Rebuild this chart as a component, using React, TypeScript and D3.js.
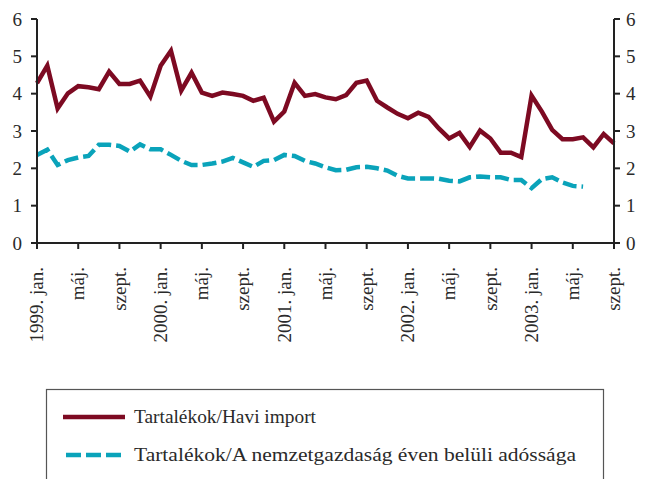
import React from "react";
import * as d3 from "d3";

const startYear = 1999;
const months = 57; // 1999 Jan .. 2003 Sep

const importRatio = [
  4.28, 4.75, 3.6, 4.01, 4.2, 4.17, 4.12, 4.59, 4.26, 4.26, 4.35, 3.92,
  4.75, 5.15, 4.08, 4.56, 4.03, 3.94, 4.03, 3.99, 3.94, 3.81, 3.89, 3.25,
  3.52, 4.29, 3.94, 3.99, 3.9, 3.85, 3.96, 4.29, 4.35, 3.81, 3.63, 3.46,
  3.34, 3.49, 3.38, 3.07, 2.8, 2.95, 2.57, 3.01, 2.8, 2.42, 2.42, 2.3,
  3.95, 3.52, 3.03, 2.78, 2.78, 2.83, 2.56, 2.92, 2.67,
];

const debtRatio = [
  2.36, 2.5, 2.09, 2.22, 2.29, 2.33, 2.63, 2.63, 2.6, 2.45, 2.64, 2.51,
  2.51, 2.36, 2.2, 2.09, 2.09, 2.13, 2.18, 2.28, 2.16, 2.04, 2.2, 2.22,
  2.36, 2.33, 2.2, 2.13, 2.03, 1.95, 1.96, 2.03, 2.04, 2.0, 1.94, 1.8,
  1.73, 1.73, 1.73, 1.72, 1.67, 1.65, 1.76, 1.78, 1.76, 1.76, 1.69, 1.69,
  1.47, 1.71, 1.76, 1.62, 1.53, 1.51,
];

const yTicks = [0, 1, 2, 3, 4, 5, 6];
const monthNames = ["jan.", "máj.", "szept."];

const seriesNames = [
  "Tartalékok/Havi import",
  "Tartalékok/A nemzetgazdaság éven belüli adóssága",
];

const RED = "#7d0a22";
const TEAL = "#0aa3ba";
const AXIS = "#222";
const TEXT = "#2a2a2a";
const FONT =
  "'Liberation Serif', 'Times New Roman', Times, 'Nimbus Roman', FreeSerif, 'Noto Serif', 'DejaVu Serif', serif";
const ts: React.CSSProperties = { fontFamily: FONT, fontSize: 19 };

export default function App() {
  const x = d3.scaleLinear().domain([0, months - 1]).range([37, 614]);
  const y = d3.scaleLinear().domain([0, 6]).range([243, 19]);

  const line = d3
    .line<number>()
    .x((_, i) => x(i))
    .y((d) => y(d));

  const xTickIdx = d3.range(0, months, 4);
  const xLabel = (i: number) => {
    const m = i % 12;
    const yr = startYear + Math.floor(i / 12);
    const name = monthNames[m / 4];
    return m === 0 ? `${yr}. ${name}` : name;
  };

  return (
    <svg
      width={650}
      height={479}
      style={{ position: "absolute", left: 0, top: 0, background: "#fff", fontFamily: FONT }}
    >
      <rect x={0} y={0} width={650} height={479} fill="#fff" />
      {/* series */}
      <path
        d={line(debtRatio) || ""}
        fill="none"
        stroke={TEAL}
        strokeWidth={4.5}
        strokeDasharray="14 5"
      />
      <path
        d={line(importRatio) || ""}
        fill="none"
        stroke={RED}
        strokeWidth={4.5}
        strokeLinejoin="miter"
      />

      {/* axes */}
      <line x1={x(0)} x2={x(0)} y1={y(6)} y2={y(0)} stroke={AXIS} strokeWidth={2} />
      <line x1={x(months - 1)} x2={x(months - 1)} y1={y(6)} y2={y(0)} stroke={AXIS} strokeWidth={2} />
      <line x1={x(0)} x2={x(months - 1)} y1={y(0)} y2={y(0)} stroke={AXIS} strokeWidth={2} />

      {yTicks.map((t) => (
        <g key={t}>
          <line x1={x(0) - 6} x2={x(0)} y1={y(t)} y2={y(t)} stroke={AXIS} strokeWidth={2} />
          <line x1={x(months - 1)} x2={x(months - 1) + 6} y1={y(t)} y2={y(t)} stroke={AXIS} strokeWidth={2} />
          <text x={22} y={y(t)} dy="0.35em" textAnchor="end" style={ts} fill={TEXT}>
            {t}
          </text>
          <text x={626} y={y(t)} dy="0.35em" textAnchor="start" style={ts} fill={TEXT}>
            {t}
          </text>
        </g>
      ))}

      {xTickIdx.map((i) => (
        <g key={i}>
          <line x1={x(i)} x2={x(i)} y1={y(0)} y2={y(0) + 6} stroke={AXIS} strokeWidth={2} />
          <text
            transform={`translate(${x(i)},${y(0) + 24}) rotate(-90)`}
            dy="0.33em"
            textAnchor="end"
            style={ts}
            fill={TEXT}
          >
            {xLabel(i)}
          </text>
        </g>
      ))}

      {/* legend */}
      <rect x={46.5} y={389.5} width={557} height={120} fill="none" stroke="#555" strokeWidth={1.2} />
      <line x1={63} x2={125} y1={417} y2={417} stroke={RED} strokeWidth={4.5} />
      <text x={134} y={417} dy="0.33em" style={ts} fill={TEXT} textLength={182} lengthAdjust="spacingAndGlyphs">
        {seriesNames[0]}
      </text>
      <line x1={66} x2={122} y1={455} y2={455} stroke={TEAL} strokeWidth={4.5} strokeDasharray="15 5" />
      <text x={134} y={455} dy="0.33em" style={ts} fill={TEXT} textLength={442} lengthAdjust="spacingAndGlyphs">
        {seriesNames[1]}
      </text>
    </svg>
  );
}
